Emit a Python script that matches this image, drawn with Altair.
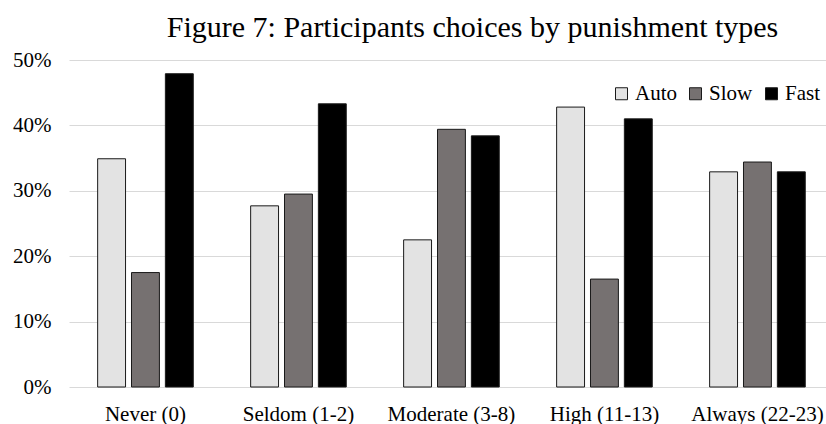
import altair as alt
import pandas as pd

# Share of participants choosing each option, per punishment category
categories = ["Never (0)", "Seldom (1-2)", "Moderate (3-8)", "High (11-13)", "Always (22-23)"]
series = ["Auto", "Slow", "Fast"]
auto_share = [0.349, 0.277, 0.225, 0.428, 0.329]
slow_share = [0.175, 0.295, 0.394, 0.165, 0.344]
fast_share = [0.479, 0.433, 0.384, 0.410, 0.329]
series_colors = ["#e3e3e3", "#767171", "#000000"]

rows = []
for values, name in zip([auto_share, slow_share, fast_share], series):
    for cat, v in zip(categories, values):
        rows.append({"category": cat, "series": name, "share": v})
df = pd.DataFrame(rows)

FONT = "Liberation Serif"

bars = alt.Chart(df).mark_bar(stroke="#1a1a1a", strokeWidth=1).encode(
    x=alt.X(
        "category:N",
        sort=categories,
        title=None,
        scale=alt.Scale(paddingInner=0.375, paddingOuter=0.1614, align=0.58),
        axis=alt.Axis(
            domain=False, ticks=False, labelAngle=0, labelPadding=16,
            labelFont=FONT, labelFontSize=21, labelColor="#000000",
        ),
    ),
    xOffset=alt.XOffset("series:N", sort=series, scale=alt.Scale(paddingInner=0.176, paddingOuter=0)),
    y=alt.Y(
        "share:Q",
        title=None,
        scale=alt.Scale(domain=[0, 0.5], nice=False),
        axis=alt.Axis(
            values=[0, 0.1, 0.2, 0.3, 0.4, 0.5], format=".0%",
            domain=False, ticks=False, labelPadding=18,
            labelFont=FONT, labelFontSize=21, labelColor="#000000",
            grid=True, gridColor="#d9d9d9", gridWidth=1.2,
        ),
    ),
    color=alt.Color(
        "series:N",
        sort=series,
        scale=alt.Scale(domain=series, range=series_colors),
        legend=alt.Legend(
            title=None, orient="none", legendX=542, legendY=23, direction="horizontal",
            padding=0, symbolType="square", symbolSize=144, symbolStrokeColor="#1a1a1a",
            symbolStrokeWidth=1, symbolOpacity=1, labelFont=FONT, labelFontSize=21,
            labelColor="#000000", labelOffset=3, columnPadding=8,
        ),
    ),
)

chart = bars.properties(
    width=757,
    height=327,
    title=alt.TitleParams(
        "Figure 7: Participants choices by punishment types",
        font=FONT, fontSize=30, fontWeight="normal", color="#000000",
        anchor="middle", frame="group", dx=25, offset=-18, baseline="alphabetic",
    ),
    autosize=alt.AutoSizeParams(type="none"),
    padding={"left": 69, "top": 60, "right": 0, "bottom": 37},
    background="white",
).configure_view(stroke=None)

chart.save("out.html", embed_options={"renderer": "svg", "actions": False})
